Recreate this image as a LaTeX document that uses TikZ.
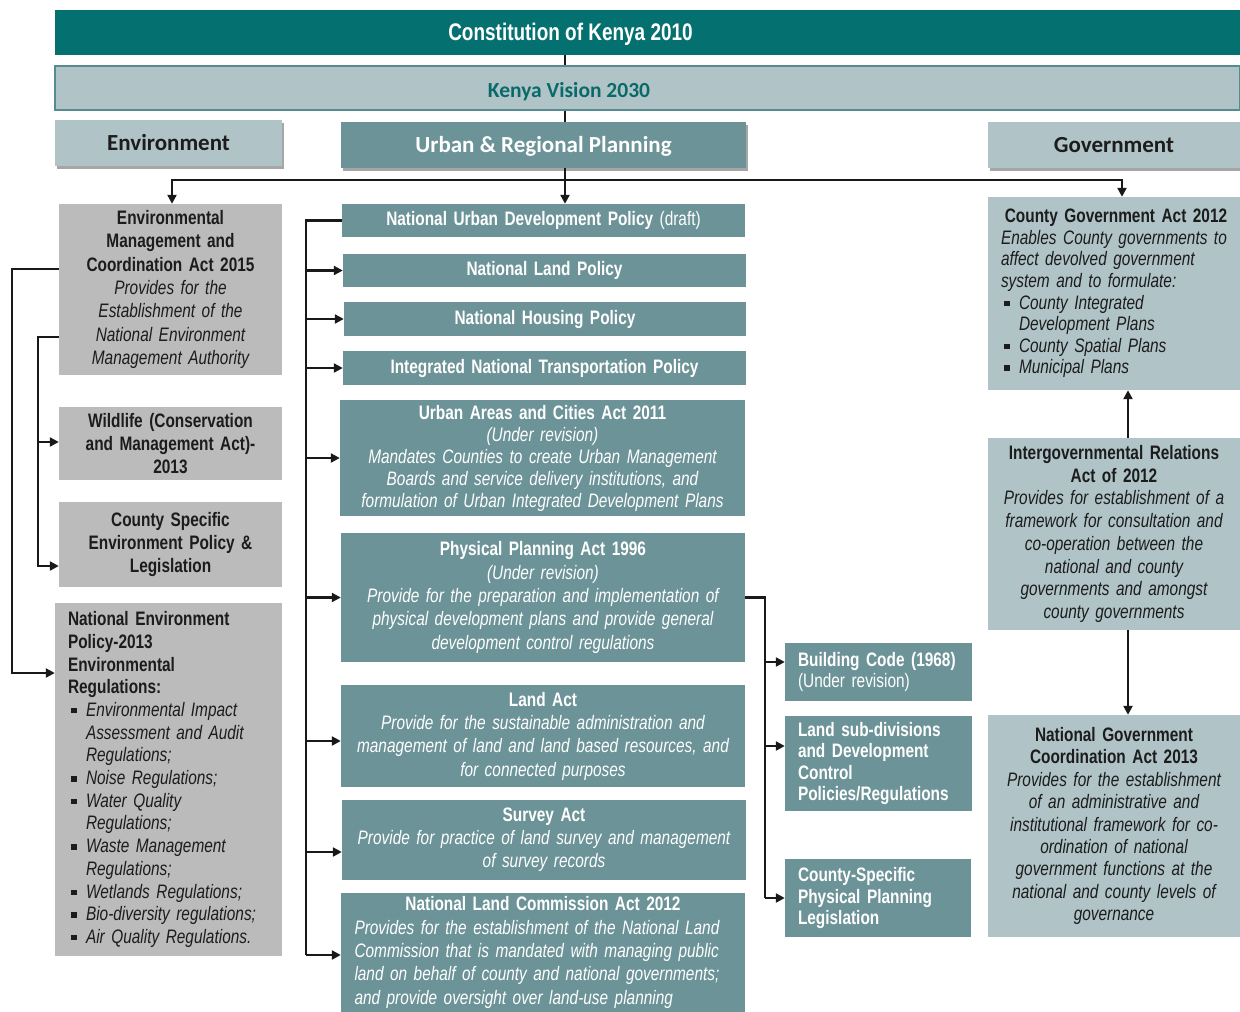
\documentclass[tikz,border=0pt]{standalone}
\usepackage{fontspec}
\setmainfont{Liberation Sans}[FakeStretch=0.79]
\newfontfamily\calib{Carlito}
\usetikzlibrary{arrows.meta,shadows,calc}
\definecolor{cteal}{RGB}{5,112,112}
\definecolor{vfill}{RGB}{176,196,200}
\definecolor{vedge}{RGB}{84,140,145}
\definecolor{mteal}{RGB}{108,147,151}
\definecolor{lgrey}{RGB}{187,187,187}
\definecolor{vtext}{RGB}{10,106,106}
\definecolor{ltext}{RGB}{28,28,28}
\newcommand\sqb{\makebox[18pt][l]{\hspace{3pt}\raisebox{3pt}{\rule{5.5pt}{5.5pt}}}}
\newcommand\ind{\hspace*{18pt}}
\newcommand\jl[1]{\makebox[\linewidth][s]{#1}}
\tikzset{
  dims/.style n args={3}{minimum width=#1pt, minimum height=#2pt, text width=#3pt},
  basebox/.style={inner sep=0pt, align=center, font=\fontsize{19.5}{22.8}\selectfont},
  tbox/.style={basebox, fill=mteal, text=white},
  gbox/.style={basebox, fill=lgrey, text=ltext, font=\fontsize{19.5}{23.3}\selectfont},
  lbox/.style={basebox, fill=vfill, text=ltext},
  hshadow/.style={drop shadow={shadow xshift=1.5pt, shadow yshift=-3pt, fill=black, opacity=0.35}},
  hdr/.style={inner sep=0pt, text height=15pt, text depth=0pt, font=\calib\bfseries\fontsize{23}{26}\selectfont, hshadow},
  conn/.style={line width=2.2pt, draw=black!90},
  arr/.style={conn, -{Triangle[length=9pt,width=9pt]}},
}
\begin{document}
\begin{tikzpicture}[x=1pt,y=-1pt]
\useasboundingbox (0,0) rectangle (1240,1012);
% ---- top bars
\node[fill=cteal, minimum width=1185pt, minimum height=45pt, inner sep=0pt] (const) at (647.5,32.5) {};
\node[text=white, inner sep=0pt, text depth=0pt, font=\bfseries\fontsize{24}{26}\selectfont] (constT) at (570.5,32) {Constitution of Kenya 2010};
\node[fill=vfill, draw=vedge, line width=1.5pt, minimum width=1185pt, minimum height=44pt, inner sep=0pt] (vision) at (647.5,88) {};
\node[text=vtext, inner sep=0pt, text depth=0pt, font=\calib\bfseries\fontsize{21.5}{24}\selectfont] (visionT) at (569,90) {Kenya Vision 2030};
% ---- section headers
\node[hdr, fill=vfill, text=ltext, minimum width=227pt, minimum height=46pt] (env) at (168.5,143) {Environment};
\node[hdr, fill=mteal, text=white, minimum width=405pt, minimum height=46pt] (urp) at (543.5,145) {Urban \& Regional Planning};
\node[hdr, fill=vfill, text=ltext, minimum width=252pt, minimum height=46pt] (gov) at (1114,145) {Government};
% ---- environment column
\node[gbox, dims={223}{171}{215}] (emca) at (170.5,289.5) {\bfseries Environmental\\Management and\\Coordination Act 2015\\\mdseries\itshape Provides for the\\Establishment of the\\National Environment\\Management Authority};
\node[gbox, dims={223}{73}{215}, font=\bfseries\fontsize{19.5}{23}\selectfont] (wild) at (170.5,443.5) {Wildlife (Conservation\\and Management Act)-\\2013};
\node[gbox, dims={223}{85}{215}, font=\bfseries\fontsize{19.5}{23.3}\selectfont] (csep) at (170.5,544.5) {County Specific\\Environment Policy \&\\Legislation};
\node[gbox, dims={227}{353}{217}, align=left, font=\fontsize{19.5}{22.7}\selectfont] (nep) at (168.5,779.5) {{\leftskip=8pt
\textbf{National Environment}\\\textbf{Policy-2013}\\\textbf{Environmental}\\\textbf{Regulations:}\\
\sqb\textit{Environmental Impact}\\\ind\textit{Assessment and Audit}\\\ind\textit{Regulations;}\\
\sqb\textit{Noise Regulations;}\\
\sqb\textit{Water Quality}\\\ind\textit{Regulations;}\\
\sqb\textit{Waste Management}\\\ind\textit{Regulations;}\\
\sqb\textit{Wetlands Regulations;}\\
\sqb\textit{Bio-diversity regulations;}\\
\sqb\textit{Air Quality Regulations.}\par}};
% ---- planning column
\node[tbox, dims={403}{33}{395}] (nudp) at (543.5,220.5) {\textbf{National Urban Development Policy} (draft)};
\node[tbox, dims={403}{33}{395}, font=\bfseries\fontsize{19.5}{22.8}\selectfont] (nlp) at (544.5,270.5) {National Land Policy};
\node[tbox, dims={402}{34}{394}, font=\bfseries\fontsize{19.5}{22.8}\selectfont] (nhp) at (545,319) {National Housing Policy};
\node[tbox, dims={403}{34}{395}, font=\bfseries\fontsize{19.5}{22.8}\selectfont] (intp) at (544.5,368) {Integrated National Transportation Policy};
\node[tbox, dims={405}{116}{397}, font=\fontsize{19.5}{22}\selectfont] (uaca) at (542.5,458) {\textbf{Urban Areas and Cities Act 2011}\\\itshape (Under revision)\\Mandates Counties to create Urban Management\\Boards and service delivery institutions, and\\formulation of Urban Integrated Development Plans};
\node[tbox, dims={404}{129}{396}, font=\fontsize{19.5}{23.3}\selectfont] (ppa) at (543,597.5) {\textbf{Physical Planning Act 1996}\\\itshape (Under revision)\\Provide for the preparation and implementation of\\physical development plans and provide general\\development control regulations};
\node[tbox, dims={404}{102}{396}, font=\fontsize{19.5}{23.3}\selectfont] (land) at (543,736) {\textbf{Land Act}\\\itshape Provide for the sustainable administration and\\management of land and land based resources, and\\for connected purposes};
\node[tbox, dims={404}{80}{396}] (survey) at (544,840) {\textbf{Survey Act}\\\itshape Provide for practice of land survey and management\\of survey records};
\node[tbox, dims={404}{119}{377}, align=left, font=\fontsize{19.5}{23.3}\selectfont] (nlc) at (543,952.5) {\makebox[\linewidth][c]{\bfseries National Land Commission Act 2012}\\\itshape
\jl{Provides for the establishment of the National Land}\\
\jl{Commission that is mandated with managing public}\\
\jl{land on behalf of county and national governments;}\\
and provide oversight over land-use planning};
% ---- sub-boxes of physical planning
\node[tbox, dims={187}{58}{177}, align=left, font=\fontsize{19.5}{21.5}\selectfont] (bc) at (878.5,672) {{\leftskip=8pt
\mbox{\textbf{Building Code (1968)}}\\(Under revision)\par}};
\node[tbox, dims={187}{95}{177}, align=left, font=\bfseries\fontsize{19.5}{21.5}\selectfont] (lsd) at (878.5,763.5) {{\leftskip=8pt
Land sub-divisions\\and Development\\Control\\\mbox{Policies/Regulations}\par}};
\node[tbox, dims={186}{78}{176}, align=left, font=\bfseries\fontsize{19.5}{21.5}\selectfont] (cspl) at (878,898) {{\leftskip=8pt
County-Specific\\Physical Planning\\Legislation\par}};
% ---- government column
\node[lbox, dims={252}{193}{242}, align=left, font=\fontsize{19.5}{21.6}\selectfont] (cga) at (1114,293.5) {{\leftskip=8pt
\makebox[\dimexpr\linewidth-12pt\relax][c]{\bfseries County Government Act 2012}\\\itshape
\mbox{Enables County governments to}\\affect devolved government\\system and to formulate:\\
\sqb County Integrated\\\ind Development Plans\\\sqb County Spatial Plans\\\sqb Municipal Plans\par}};
\node[lbox, dims={252}{192}{244}, font=\fontsize{19.5}{22.7}\selectfont] (igr) at (1114,534) {\bfseries Intergovernmental Relations\\Act of 2012\\\mdseries\itshape Provides for establishment of a\\framework for consultation and\\co-operation between the\\national and county\\governments and amongst\\county governments};
\node[lbox, dims={252}{222}{244}, font=\fontsize{19.5}{22.4}\selectfont] (ngca) at (1114,826) {\bfseries National Government\\Coordination Act 2013\\\mdseries\itshape Provides for the establishment\\of an administrative and\\institutional framework for co-\\ordination of national\\government functions at the\\national and county levels of\\governance};
% ---- connector coordinates
\coordinate (cx) at (565,0);
\coordinate (busL) at (172,180);
\coordinate (busR) at (1122,180);
\coordinate (a1) at (12,269);
\coordinate (a2) at (12,673);
\coordinate (b1) at (38,337);
\coordinate (b2) at (38,566);
\coordinate (bw) at (38,442);
\coordinate (m) at (306,0);
\coordinate (yLand) at (0,741);
\coordinate (ySurv) at (0,852);
\coordinate (yNLC) at (0,955);
\coordinate (r) at (765,0);
\coordinate (yBC) at (0,662);
\coordinate (yLSD) at (0,746);
\coordinate (gx) at (1128,0);
% ---- connectors
\draw[conn] (const.south -| cx) -- (vision.north -| cx);
\draw[conn] (vision.south -| cx) -- (urp.north -| cx);
\draw[arr] (urp.south -| cx) -- (nudp.north -| cx);
\draw[conn, {Triangle[length=9pt,width=9pt]}-{Triangle[length=9pt,width=9pt]}] (emca.north -| busL) -- (busL) -- (busR) -- (cga.north -| busR);
% environment
\draw[arr] (emca.west |- a1) -- (a1) -- (a2) -- (nep.west |- a2);
\draw[arr] (emca.west |- b1) -- (b1) -- (b2) -- (csep.west |- b2);
\draw[arr] (bw) -- (wild.west |- bw);
% planning bus
\draw[conn] (nudp.west) -- (nudp.west -| m) -- (m |- yNLC);
\draw[arr] (m |- nlp.west) -- (nlp.west);
\draw[arr] (m |- nhp.west) -- (nhp.west);
\draw[arr] (m |- intp.west) -- (intp.west);
\draw[arr] (m |- uaca.west) -- (uaca.west);
\draw[arr] (m |- ppa.west) -- (ppa.west);
\draw[arr] (m |- yLand) -- (land.west |- yLand);
\draw[arr] (m |- ySurv) -- (survey.west |- ySurv);
\draw[arr] (m |- yNLC) -- (nlc.west |- yNLC);
% physical planning branch
\draw[conn] (ppa.east) -- (ppa.east -| r) -- (r |- cspl.west);
\draw[arr] (r |- yBC) -- (bc.west |- yBC);
\draw[arr] (r |- yLSD) -- (lsd.west |- yLSD);
\draw[arr] (r |- cspl.west) -- (cspl.west);
% government
\draw[arr] (igr.north -| gx) -- (cga.south -| gx);
\draw[arr] (igr.south -| gx) -- (ngca.north -| gx);
\end{tikzpicture}
\end{document}
